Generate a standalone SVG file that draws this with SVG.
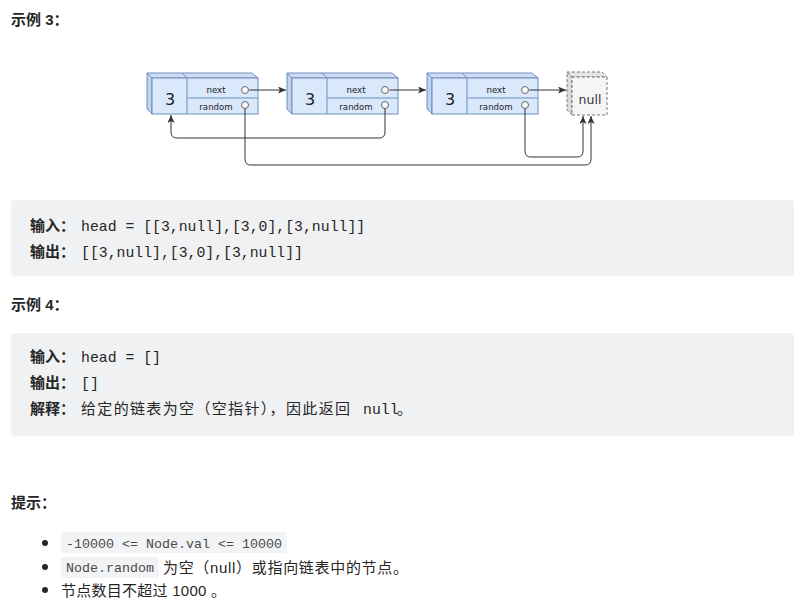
<svg xmlns="http://www.w3.org/2000/svg" width="797" height="608" viewBox="0 0 797 608">
<defs>
<style>
.h{font-family:"Liberation Sans","Noto Sans CJK SC",sans-serif;font-weight:bold;font-size:15px;fill:#262626}
.lbl{font-family:"Liberation Sans","Noto Sans CJK SC",sans-serif;font-weight:bold;font-size:15px;fill:#262626}
.code{font-family:"Liberation Mono","Noto Sans CJK SC",monospace;font-size:14.8px;fill:#262626}
.cjk{font-family:"Liberation Sans","Noto Sans CJK SC",sans-serif;font-size:15px;fill:#262626}
.ic{font-family:"Liberation Mono","Noto Sans CJK SC",monospace;font-size:13.33px;fill:#4a4a4a}
.blk{fill:#f0f1f3}
.icbg{fill:#f2f3f5}
.front{fill:#dae8fc;stroke:#6c8ebf;stroke-width:1}
.top{fill:#cfdcf2;stroke:#6c8ebf;stroke-width:1}
.side{fill:#c4d3ec;stroke:#6c8ebf;stroke-width:1}
.div{stroke:#6c8ebf;stroke-width:1;fill:none}
.val{font-family:"DejaVu Sans",sans-serif;font-size:16px;fill:#222;text-anchor:middle}
.fld{font-family:"DejaVu Sans",sans-serif;font-size:8.6px;fill:#222;text-anchor:middle}
.port{fill:#fafafa;stroke:#666;stroke-width:1}
.nf{fill:#f5f5f5;stroke:#777;stroke-width:1;stroke-dasharray:3 2}
.nt{fill:#e6e6e6;stroke:#777;stroke-width:1;stroke-dasharray:3 2}
.ns{fill:#dcdcdc;stroke:#777;stroke-width:1;stroke-dasharray:3 2}
.ntx{font-family:"DejaVu Sans",sans-serif;font-size:12.5px;fill:#333;text-anchor:middle}
.edge{fill:none;stroke:#333;stroke-width:1;marker-end:url(#arr)}
</style>
<marker id="arr" viewBox="0 0 8 7" markerWidth="8" markerHeight="7" refX="8" refY="3.5" orient="auto" markerUnits="userSpaceOnUse">
<path d="M0,0 L8,3.5 L0,7 L2,3.5 Z" fill="#333"/>
</marker>
</defs>
<rect width="797" height="608" fill="#ffffff"/>

<text class="h" x="11" y="25">示例 3：</text>

<g id="node1" transform="translate(147,73)">
<path class="top" d="M0,0 H105 L111,5 H5 Z"/>
<path class="side" d="M0,0 L5,5 V41 L0,36 Z"/>
<rect class="front" x="5" y="5" width="106" height="36"/>
<path class="div" d="M35,0 L40,5 M40,5 V41 M40,25 H111"/>
<text class="val" x="23" y="32">3</text>
<text class="fld" x="69" y="19.5">next</text>
<text class="fld" x="69" y="36.5">random</text>
<circle class="port" cx="98" cy="17" r="3.5"/>
<circle class="port" cx="98" cy="32" r="3.5"/>
</g>
<g id="node2" transform="translate(287,73)">
<path class="top" d="M0,0 H105 L111,5 H5 Z"/>
<path class="side" d="M0,0 L5,5 V41 L0,36 Z"/>
<rect class="front" x="5" y="5" width="106" height="36"/>
<path class="div" d="M35,0 L40,5 M40,5 V41 M40,25 H111"/>
<text class="val" x="23" y="32">3</text>
<text class="fld" x="69" y="19.5">next</text>
<text class="fld" x="69" y="36.5">random</text>
<circle class="port" cx="98" cy="17" r="3.5"/>
<circle class="port" cx="98" cy="32" r="3.5"/>
</g>
<g id="node3" transform="translate(427,73)">
<path class="top" d="M0,0 H105 L111,5 H5 Z"/>
<path class="side" d="M0,0 L5,5 V41 L0,36 Z"/>
<rect class="front" x="5" y="5" width="106" height="36"/>
<path class="div" d="M35,0 L40,5 M40,5 V41 M40,25 H111"/>
<text class="val" x="23" y="32">3</text>
<text class="fld" x="69" y="19.5">next</text>
<text class="fld" x="69" y="36.5">random</text>
<circle class="port" cx="98" cy="17" r="3.5"/>
<circle class="port" cx="98" cy="32" r="3.5"/>
</g>
<g id="null" transform="translate(567,72)">
<path class="nt" d="M0,0 H35 L40,5 H5 Z"/>
<path class="ns" d="M0,0 L5,5 V43 L0,38 Z"/>
<rect class="nf" x="5" y="5" width="35" height="38"/>
<text class="ntx" x="23" y="32">null</text>
</g>

<g id="connectors">
<path class="edge" d="M249.5,90 H286"/>
<path class="edge" d="M389.5,90 H426"/>
<path class="edge" d="M529.5,90 H566"/>
<path class="edge" d="M245,108.5 V159 Q245,165 251,165 H585 Q591,165 591,159 V116"/>
<path class="edge" d="M385,108.5 V132 Q385,138 379,138 H177 Q171,138 171,132 V115"/>
<path class="edge" d="M525,108.5 V151 Q525,157 531,157 H577 Q583,157 583,151 V116"/>
</g>

<rect class="blk" x="11" y="200" width="783" height="76" rx="4"/>
<text class="lbl" x="30" y="231">输入：</text>
<text class="code" x="81" y="231">head = [[3,null],[3,0],[3,null]]</text>
<text class="lbl" x="30" y="257">输出：</text>
<text class="code" x="81" y="257">[[3,null],[3,0],[3,null]]</text>

<text class="h" x="11" y="310">示例 4：</text>

<rect class="blk" x="11" y="333" width="783" height="103" rx="4"/>
<text class="lbl" x="30" y="362">输入：</text>
<text class="code" x="81" y="362">head = []</text>
<text class="lbl" x="30" y="388">输出：</text>
<text class="code" x="81" y="388">[]</text>
<text class="lbl" x="30" y="414">解释：</text>
<text class="cjk" x="81" y="414" textLength="269" lengthAdjust="spacing">给定的链表为空（空指针），因此返回</text>
<text class="code" x="363" y="414">null<tspan class="cjk" x="397">。</tspan></text>

<text class="h" x="11" y="508">提示：</text>

<circle cx="45" cy="543" r="3" fill="#262626"/>
<circle cx="45" cy="567" r="3" fill="#262626"/>
<circle cx="45" cy="590" r="3" fill="#262626"/>

<rect class="icbg" x="61" y="532" width="226" height="21" rx="3"/>
<text class="ic" x="66" y="548">-10000 &lt;= Node.val &lt;= 10000</text>

<rect class="icbg" x="61" y="557" width="98" height="21" rx="3"/>
<text class="ic" x="66" y="572">Node.random</text>
<text class="cjk" x="163" y="573" textLength="245" lengthAdjust="spacing">为空（null）或指向链表中的节点。</text>

<text class="cjk" x="61" y="596" textLength="165" lengthAdjust="spacing">节点数目不超过 1000 。</text>
</svg>
